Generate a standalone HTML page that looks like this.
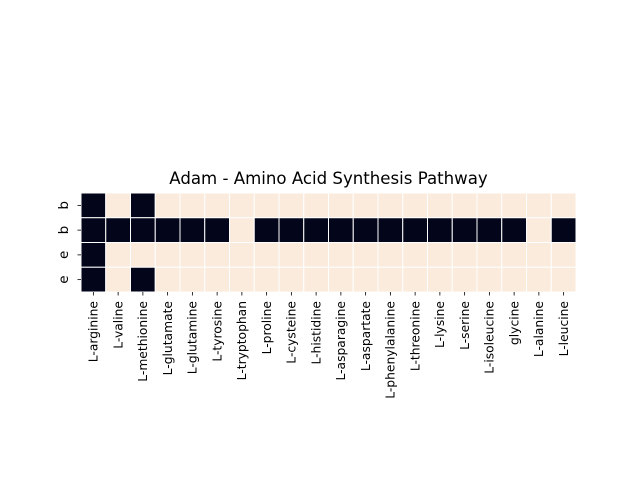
<!DOCTYPE html>
<html><head><meta charset="utf-8"><style>
html,body{margin:0;padding:0;background:#fff;}
svg{display:block;font-family:"DejaVu Sans","Liberation Sans",sans-serif;}
</style></head><body>
<svg id="chart" width="640" height="480">
<text x="328.5" y="184" font-size="16.6" text-anchor="middle" fill="#000">Adam - Amino Acid Synthesis Pathway</text>
<g id="cells"></g>
<g id="xaxis"></g>
<g id="yaxis"></g>
</svg>
<script>
const categories = ["L-arginine","L-valine","L-methionine","L-glutamate","L-glutamine","L-tyrosine","L-tryptophan","L-proline","L-cysteine","L-histidine","L-asparagine","L-aspartate","L-phenylalanine","L-threonine","L-lysine","L-serine","L-isoleucine","glycine","L-alanine","L-leucine"];
const rowLabels = ["b","b","e","e"];
const row0 = [1,0,1,0,0,0,0,0,0,0,0,0,0,0,0,0,0,0,0,0];
const row1 = [1,1,1,1,1,1,0,1,1,1,1,1,1,1,1,1,1,1,0,1];
const row2 = [1,0,0,0,0,0,0,0,0,0,0,0,0,0,0,0,0,0,0,0];
const row3 = [1,0,1,0,0,0,0,0,0,0,0,0,0,0,0,0,0,0,0,0];
const rows = [row0,row1,row2,row3];

const NS="http://www.w3.org/2000/svg";
const X0=81, X1=576, Y0=193, Y1=292;
const cw=(X1-X0)/categories.length, rh=(Y1-Y0)/rows.length;
const xs=i=>X0+i*cw, ys=j=>Y0+j*rh;
const color=v=>v?"#03051a":"#faebdd";
const cells=document.getElementById('cells');
rows.forEach((r,j)=>r.forEach((v,i)=>{
  const el=document.createElementNS(NS,'rect');
  el.setAttribute('x',xs(i));el.setAttribute('y',ys(j));
  el.setAttribute('width',cw);el.setAttribute('height',rh);
  el.setAttribute('fill',color(v));el.setAttribute('stroke','#fff');el.setAttribute('stroke-width','1');
  
  
  cells.appendChild(el);
}));
const xa=document.getElementById('xaxis');
categories.forEach((c,i)=>{
  const cx=xs(i)+cw/2;
  const t=document.createElementNS(NS,'line');
  t.setAttribute('x1',cx);t.setAttribute('x2',cx);t.setAttribute('y1',Y1);t.setAttribute('y2',Y1+3.5);
  t.setAttribute('stroke','#000');t.setAttribute('stroke-width','0.8');
  
  
  xa.appendChild(t);
  const tx=document.createElementNS(NS,'text');
  tx.setAttribute('transform',`translate(${cx+4.3},301) rotate(-90)`);
  tx.setAttribute('text-anchor','end');tx.setAttribute('font-size','12.3');
  tx.textContent=c;
  
  
  xa.appendChild(tx);
});
const ya=document.getElementById('yaxis');
rowLabels.forEach((c,j)=>{
  const cy=ys(j)+rh/2;
  const t=document.createElementNS(NS,'line');
  t.setAttribute('x1',X0-3.5);t.setAttribute('x2',X0);t.setAttribute('y1',cy);t.setAttribute('y2',cy);
  t.setAttribute('stroke','#000');t.setAttribute('stroke-width','0.8');
  
  
  ya.appendChild(t);
  const tx=document.createElementNS(NS,'text');
  tx.setAttribute('transform',`translate(${X0-13},${cy}) rotate(-90)`);
  tx.setAttribute('text-anchor','middle');tx.setAttribute('font-size','13.5');
  tx.textContent=c;
  
  
  ya.appendChild(tx);
});
</script>
</body></html>
